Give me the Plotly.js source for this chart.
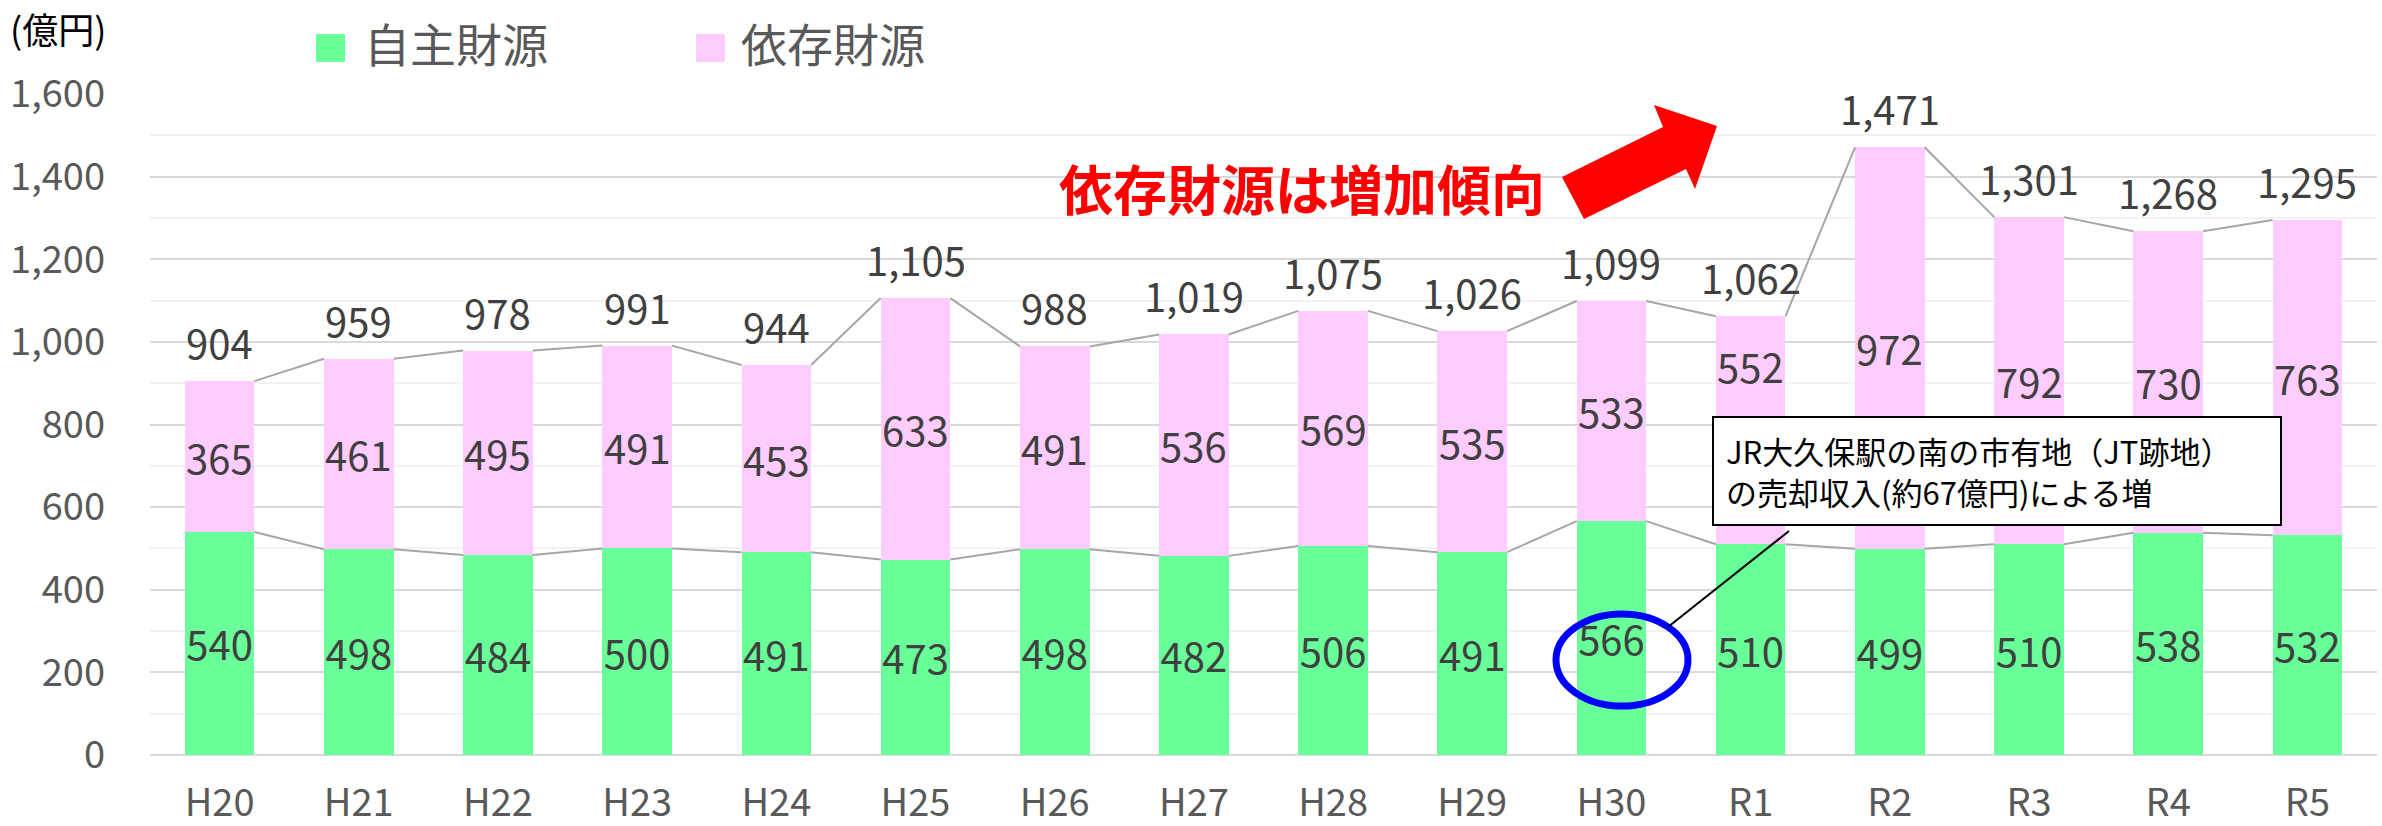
<!DOCTYPE html>
<html>
<head>
<meta charset="utf-8">
<script src="https://cdn.plot.ly/plotly-3.0.1.min.js"></script>
<style>
html,body{margin:0;padding:0;background:#fff;}
#chart{width:2382px;height:826px;}
</style>
</head>
<body>
<div id="chart"></div>
<script>
// ---- data ----
const categories = ['H20','H21','H22','H23','H24','H25','H26','H27','H28','H29','H30','R1','R2','R3','R4','R5'];
const ownRevenue = [540,498,484,500,491,473,498,482,506,491,566,510,499,510,538,532];
const depRevenue = [365,461,495,491,453,633,491,536,569,535,533,552,972,792,730,763];
const totals = [904,959,978,991,944,1105,988,1019,1075,1026,1099,1062,1471,1301,1268,1295];
const seriesNames = ['自主財源','依存財源'];
const unitLabel = '(億円)';
const trendNote = '依存財源は増加傾向';
const calloutText = 'JR大久保駅の南の市有地（JT跡地）<br>の売却収入(約67億円)による増';

// ---- style ----
const FONT = "'Noto Sans CJK JP', 'Noto Sans', sans-serif";
const GREEN = '#69FF99';
const PINK = '#FFCCFF';
const LABEL = '#404040';
const AXIS = '#595959';
const HALF = 0.25; // half bar width in category units (bargap 0.5)

const xs = categories.map((_, i) => i);
const tops = ownRevenue.map((v, i) => v + depRevenue[i]);

function seriesLine(vals) {
  const x = [], y = [];
  for (let i = 0; i < vals.length - 1; i++) {
    x.push(i + HALF, i + 1 - HALF, null);
    y.push(vals[i], vals[i + 1], null);
  }
  return {x, y};
}
const ownLine = seriesLine(ownRevenue);
const topLine = seriesLine(tops);

// plot area in pixels and conversions (for decorative overlays)
const L = 150, R = 2377, T = 94, B = 755, YMAX = 1600;
const px = v => (v - L) / (R - L);   // pixel x -> paper x
const py = v => (B - v) / (B - T);   // pixel y -> paper y
const toCat = v => (v - L) / ((R - L) / categories.length) - 0.5; // pixel x -> category units
const toVal = v => (B - v) / (B - T) * YMAX;                      // pixel y -> value units

// callout box (pixels)
const BOX = {x0:1712, x1:2282, y0:416, y1:526};

// dependent-revenue label placement: centre of segment, moved above the callout box if it would be hidden
const labelHalf = 22 / ((B - T) / YMAX);
const boxTopVal = toVal(BOX.y0), boxBotVal = toVal(BOX.y1);
const depLabelY = depRevenue.map((v, i) => {
  const base = ownRevenue[i], top = base + v, mid = base + v / 2;
  const inBoxX = (i + HALF) > toCat(BOX.x0) && (i - HALF) < toCat(BOX.x1);
  const hits = inBoxX && (mid - labelHalf < boxTopVal) && (mid + labelHalf > boxBotVal);
  return hits ? (Math.max(base, boxTopVal) + top) / 2 : mid;
});

const traces = [
  {type:'bar', x: xs, y: ownRevenue, name: seriesNames[0], marker:{color:GREEN},
   text: ownRevenue.map(String), textposition:'inside', insidetextanchor:'middle',
   textangle:0, constraintext:'none',
   textfont:{family:FONT, size:40, color:LABEL}, showlegend:false, hoverinfo:'skip'},
  {type:'bar', x: xs, y: depRevenue, name: seriesNames[1], marker:{color:PINK},
   textposition:'none', showlegend:false, hoverinfo:'skip'},
  {type:'scatter', mode:'lines', x: ownLine.x, y: ownLine.y, connectgaps:false,
   line:{color:'#A6A6A6', width:2}, showlegend:false, hoverinfo:'skip'},
  {type:'scatter', mode:'lines', x: topLine.x, y: topLine.y, connectgaps:false,
   line:{color:'#A6A6A6', width:2}, showlegend:false, hoverinfo:'skip'}
];

const shapes = [
  // legend swatches
  {type:'rect', xref:'paper', yref:'paper', x0:px(316), x1:px(345), y0:py(62), y1:py(34), fillcolor:GREEN, line:{width:0}},
  {type:'rect', xref:'paper', yref:'paper', x0:px(696), x1:px(725), y0:py(62), y1:py(34), fillcolor:PINK, line:{width:0}},
  // red arrow
  {type:'path', xref:'paper', yref:'paper', fillcolor:'#FF0000', line:{width:0},
   path: 'M' + [[1562,177],[1584,219],[1686,169],[1695,189],[1717,126],[1654,105],[1663,127]]
     .map(p => px(p[0]) + ',' + py(p[1])).join('L') + 'Z'},
  // blue ellipse
  {type:'circle', xref:'paper', yref:'paper', x0:px(1556), x1:px(1688), y0:py(706), y1:py(614),
   line:{color:'#0000FF', width:7}},
  // callout leader line
  {type:'line', xref:'paper', yref:'paper', x0:px(1789), y0:py(531), x1:px(1668), y1:py(627),
   line:{color:'#000000', width:2}}
];

const annotations = [];
// dependent-revenue segment labels
depRevenue.forEach((v, i) => annotations.push({
  x: i, y: depLabelY[i], xref:'x', yref:'y', showarrow:false, text: String(v),
  xanchor:'center', yanchor:'middle', font:{family:FONT, size:40, color:LABEL}
}));
// totals above bars
totals.forEach((v, i) => annotations.push({
  x: i, y: tops[i], xref:'x', yref:'y', showarrow:false, text: v.toLocaleString('en-US'),
  xanchor:'center', yanchor:'bottom', yshift:8, font:{family:FONT, size:40, color:LABEL}
}));
annotations.push(
  {xref:'paper', yref:'paper', x:px(362), y:py(42), xanchor:'left', yanchor:'middle', showarrow:false,
   text: seriesNames[0], font:{family:FONT, size:46, color:AXIS}},
  {xref:'paper', yref:'paper', x:px(739), y:py(42), xanchor:'left', yanchor:'middle', showarrow:false,
   text: seriesNames[1], font:{family:FONT, size:46, color:AXIS}},
  {xref:'paper', yref:'paper', x:px(8), y:py(28), xanchor:'left', yanchor:'middle', showarrow:false,
   text: unitLabel, font:{family:FONT, size:36, color:'#000000'}},
  {xref:'paper', yref:'paper', x:px(1302), y:py(187), xanchor:'center', yanchor:'middle', showarrow:false,
   text: trendNote, font:{family:FONT, size:54, color:'#FF0000', weight:'bold'}},
  {xref:'paper', yref:'paper', x:px(BOX.x0), y:py(BOX.y0), xanchor:'left', yanchor:'top', showarrow:false,
   text: calloutText, align:'left', valign:'middle',
   width:(BOX.x1 - BOX.x0) - 28, height:(BOX.y1 - BOX.y0) - 28, borderpad:12, borderwidth:2,
   bordercolor:'#000000', bgcolor:'#FFFFFF',
   font:{family:FONT, size:31, color:'#000000'}}
);

const layout = {
  width:2382, height:826,
  margin:{l:L, r:2382-R, t:T, b:826-B, pad:0},
  paper_bgcolor:'#FFFFFF', plot_bgcolor:'#FFFFFF',
  barmode:'stack', bargap:0.5,
  showlegend:false,
  font:{family:FONT, color:AXIS},
  xaxis:{
    tickmode:'array', tickvals: xs, ticktext: categories,
    range:[-0.5, categories.length - 0.5],
    showgrid:false, zeroline:false, showline:false, ticks:'',
    ticklabelstandoff:22,
    tickfont:{family:FONT, size:38, color:AXIS}
  },
  yaxis:{
    range:[0,YMAX], dtick:200, tick0:0, tickformat:',d',
    showgrid:true, gridcolor:'#D9D9D9', gridwidth:2,
    minor:{dtick:100, showgrid:true, gridcolor:'#F2F2F2', gridwidth:2},
    zeroline:true, zerolinecolor:'#D9D9D9', zerolinewidth:2,
    showline:false, ticks:'',
    ticklabelstandoff:44,
    tickfont:{family:FONT, size:38, color:AXIS}
  },
  shapes, annotations
};

Plotly.newPlot('chart', traces, layout, {displayModeBar:false, staticPlot:true});
</script>
</body>
</html>
